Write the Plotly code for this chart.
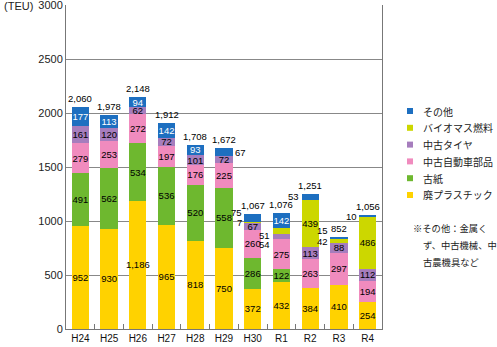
import plotly.graph_objects as go

categories = ["H24", "H25", "H26", "H27", "H28", "H29", "H30", "R1", "R2", "R3", "R4"]
waste_plastic = [952, 930, 1186, 965, 818, 750, 372, 432, 384, 410, 254]
waste_paper = [491, 562, 534, 536, 520, 558, 286, 122, 0, 0, 0]
used_car_parts = [279, 253, 272, 197, 176, 225, 260, 275, 263, 297, 194]
used_tires = [161, 120, 62, 72, 101, 72, 67, 54, 113, 88, 112]
biomass_fuel = [0, 0, 0, 0, 0, 0, 7, 51, 439, 42, 486]
others = [177, 113, 94, 142, 93, 67, 75, 142, 53, 15, 10]
totals = [2060, 1978, 2148, 1912, 1708, 1672, 1067, 1076, 1251, 852, 1056]
y_ticks = [0, 500, 1000, 1500, 2000, 2500, 3000]

series = [
    ("廃プラスチック", waste_plastic, "#FFD200", "black"),
    ("古紙", waste_paper, "#6EB82F", "black"),
    ("中古自動車部品", used_car_parts, "#F08BBE", "black"),
    ("中古タイヤ", used_tires, "#A67DBD", "black"),
    ("バイオマス燃料", biomass_fuel, "#CCD700", "black"),
    ("その他", others, "#1D6FC0", "white"),
]

# labels drawn outside the bar: (series index, category index) -> (side, yshift)
outside = {
    (5, 6): ("left", 5), (4, 6): ("left", 0),
    (4, 7): ("left", -5), (3, 7): ("left", -8),
    (5, 8): ("left", 0),
    (5, 9): ("left", 7), (4, 9): ("left", -1),
    (5, 10): ("left", -1),
    (5, 5): ("right", 0),
}

NUMFONT = "Liberation Sans Narrow, Liberation Sans, Arial"
JPFONT = "Noto Sans CJK JP"

L, R, T, B = 66, 115, 5, 18
W, H = 497, 347
PW, PH = W - L - R, H - T - B


def px_x(x):
    return (x - L) / PW


def px_y(y):
    return (H - B - y) / PH


fig = go.Figure()
for si, (name, vals, color, tcol) in enumerate(series):
    texts = []
    for ci, v in enumerate(vals):
        if v == 0 or (si, ci) in outside:
            texts.append("")
        else:
            texts.append(f"{v:,}")
    fig.add_trace(go.Bar(
        x=categories, y=vals, name=name, marker=dict(color=color, line=dict(width=0)),
        text=texts, textposition="inside", insidetextanchor="middle", textangle=0,
        textfont=dict(color=tcol, size=9.5, family=NUMFONT),
        showlegend=False, hoverinfo="skip", cliponaxis=False,
    ))

annotations = []
shapes = []
all_vals = [s[1] for s in series]
for (si, ci), (side, ys) in outside.items():
    base = sum(all_vals[k][ci] for k in range(si))
    v = all_vals[si][ci]
    annotations.append(dict(
        x=categories[ci], y=base + v / 2, xref="x", yref="y",
        text=str(v), showarrow=False,
        xanchor="right" if side == "left" else "left",
        xshift=-9 if side == "left" else 9, yshift=ys,
        font=dict(size=9.5, family=NUMFONT, color="black"),
    ))
for ci, t in enumerate(totals):
    annotations.append(dict(
        x=categories[ci], y=t, xref="x", yref="y", text=f"{t:,}",
        showarrow=False, yanchor="bottom", yshift=1,
        font=dict(size=9.5, family=NUMFONT, color="black"),
    ))
annotations.append(dict(
    xref="paper", yref="paper", x=px_x(2), y=px_y(6), xanchor="left", yanchor="middle",
    text="(TEU)", showarrow=False,
    font=dict(size=11, family="Liberation Sans, Arial", color="#222"),
))

# legend (manual, to match the compact spacing)
legend_items = list(reversed(series))
for i, (name, vals, color, tcol) in enumerate(legend_items):
    yc = 111 + 16.8 * i
    shapes.append(dict(
        type="rect", xref="paper", yref="paper",
        x0=px_x(407), x1=px_x(413), y0=px_y(yc + 3), y1=px_y(yc - 3),
        fillcolor=color, line=dict(width=0),
    ))
    annotations.append(dict(
        xref="paper", yref="paper", x=px_x(421), y=px_y(yc), xanchor="left", yanchor="middle",
        text=name, showarrow=False, font=dict(size=10, family=JPFONT, color="#222"),
    ))

note_lines = [("※その他：金属く", 411), ("ず、中古機械、中", 421), ("古農機具など", 421)]
for i, (line, x) in enumerate(note_lines):
    annotations.append(dict(
        xref="paper", yref="paper", x=px_x(x), y=px_y(228 + 17 * i),
        xanchor="left", yanchor="middle", text=line, showarrow=False,
        font=dict(size=9.3, family=JPFONT, color="#222"),
    ))

fig.update_layout(
    width=W, height=H,
    margin=dict(l=L, r=R, t=T, b=B),
    barmode="stack", bargap=0.4,
    plot_bgcolor="white", paper_bgcolor="white",
    uniformtext=dict(minsize=9.5, mode="show"),
    showlegend=False,
    annotations=annotations,
    shapes=shapes,
    xaxis=dict(
        showline=True, linecolor="#777", linewidth=1,
        ticks="inside", tickson="boundaries", ticklen=5, tickcolor="#777",
        tickfont=dict(size=10, family=NUMFONT, color="#111"),
        tickangle=0, showgrid=False, automargin=False,
    ),
    yaxis=dict(
        range=[0, 3000], tickvals=y_ticks, showgrid=True, gridcolor="#888", gridwidth=1,
        showline=True, linecolor="#777", linewidth=1, mirror=True,
        ticks="", tickfont=dict(size=11, family="Liberation Sans, Arial", color="#222"),
        zeroline=False, automargin=False, ticklabeloverflow="allow",
    ),
)

fig.write_html("out.html")
